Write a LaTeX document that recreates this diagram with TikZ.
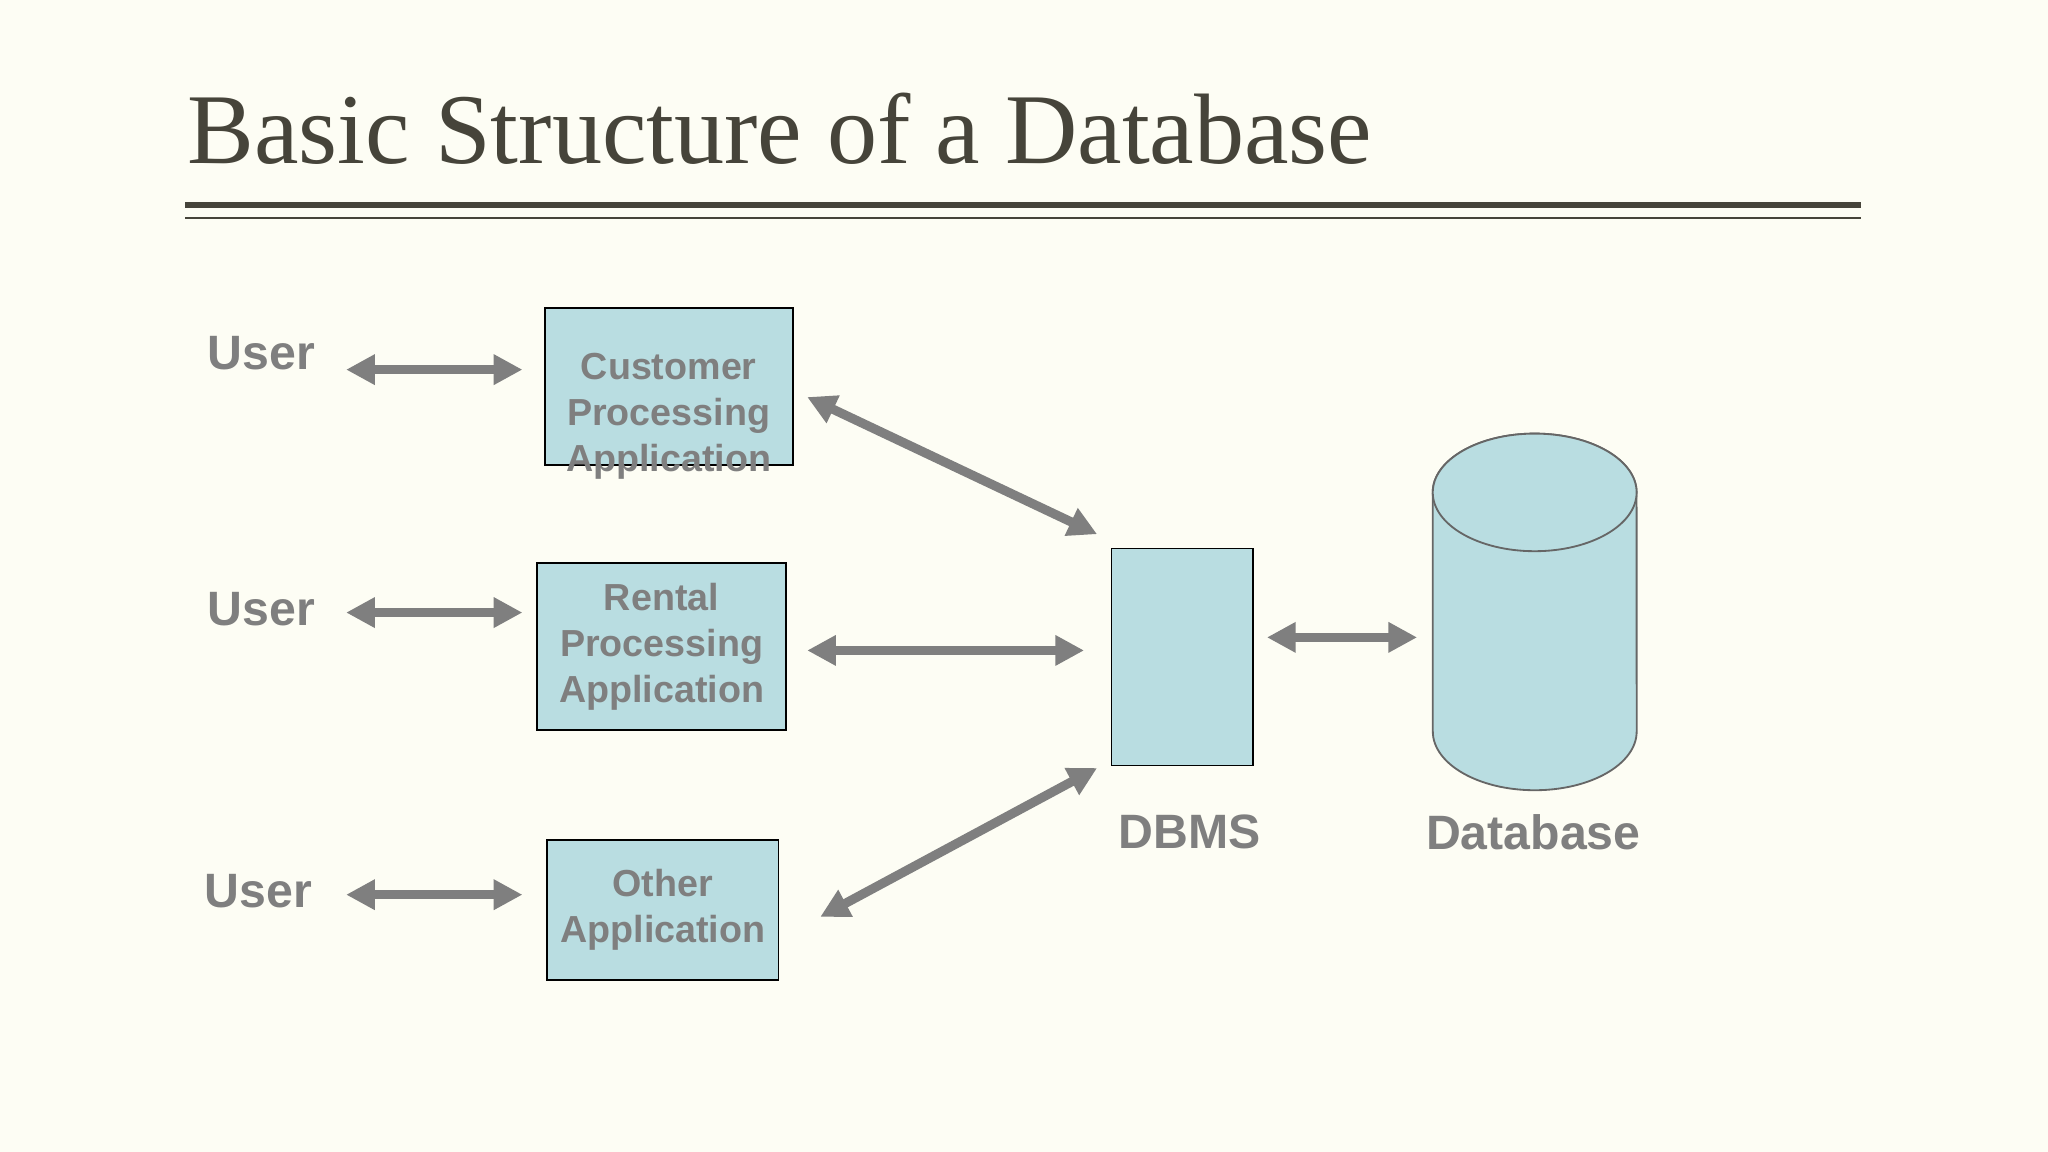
\documentclass[tikz,border=0pt]{standalone}
\usepackage{fontspec}
\setmainfont{Liberation Serif}
\newfontfamily\sans{Liberation Sans}
\usetikzlibrary{arrows.meta}
\definecolor{bg}{HTML}{FDFDF4}
\definecolor{boxc}{HTML}{B9DDE1}
\definecolor{txt}{HTML}{7F7F7F}
\definecolor{ttl}{HTML}{46443A}
\begin{document}
\begin{tikzpicture}[x=0.01cm,y=-0.01cm,
  box/.style={draw=black,line width=0.4pt,fill=boxc,inner sep=0pt,font=\sans\bfseries\fontsize{8.2}{10}\selectfont,text=txt,align=center},
  lbl/.style={font=\sans\bfseries\fontsize{10.5}{12}\selectfont,text=txt},
  cyl/.style={draw=black!60,line width=0.4pt,fill=boxc},
  arr/.style={draw=txt,line width=2pt,{Triangle[length=0.22cm,width=0.22cm]}-{Triangle[length=0.22cm,width=0.22cm]}}]
\fill[bg] (0,0) rectangle (1568,882);
\useasboundingbox (0,0) rectangle (1568,882);
\node[anchor=base west,text=ttl,font=\fontsize{21.8}{24}\selectfont,inner sep=0pt] (title) at (143,125) {Basic Structure of a Database};
\draw[ttl,line width=1.4pt] (142,157) coordinate (l1a) -- (1425,157) coordinate (l1b);
\draw[ttl,line width=0.45pt] (142,167) coordinate (l2a) -- (1425,167) coordinate (l2b);
% boxes
\node[box,minimum width=1.90cm,minimum height=1.20cm,text depth=0pt] (cpa) at (512,296) {\raisebox{-1.2pt}{\parbox{1.9cm}{\centering Customer\\Processing\\Application}}};
\node[box,minimum width=1.91cm,minimum height=1.28cm] (rpa) at (506.5,495) {\raisebox{-1.2pt}{\parbox{1.91cm}{\centering Rental\\Processing\\Application}}};
\node[box,minimum width=1.77cm,minimum height=1.07cm] (oa) at (507.5,696.5) {\raisebox{-1.2pt}{\parbox{1.77cm}{\centering Other\\Application}}};
\node[box,minimum width=1.08cm,minimum height=1.66cm] (dbms) at (905,503) {};
% database cylinder
\path[cyl] (1097,377) -- (1097,560) arc[start angle=180,end angle=360,x radius=0.78cm,y radius=0.45cm] -- (1253,377) arc[start angle=0,end angle=180,x radius=0.78cm,y radius=0.45cm] -- cycle;
\draw[cyl] (1175,377) ellipse [x radius=0.78cm,y radius=0.45cm];
\coordinate (db) at (1175,469);
% labels
\node[lbl] (u1) at (200,270) {User};
\node[lbl] (u2) at (200,466) {User};
\node[lbl] (u3) at (198,682) {User};
\node[lbl] (ldbms) at (911,637) {DBMS};
\node[lbl] (ldb) at (1174,637) {Database};
% arrow endpoints
\coordinate (a1) at (265,283); \coordinate (b1) at (400,283);
\coordinate (a2) at (265,469); \coordinate (b2) at (400,469);
\coordinate (a3) at (265,685); \coordinate (b3) at (400,685);
\coordinate (c1) at (618,304); \coordinate (d1) at (840,409);
\coordinate (c2) at (618,498); \coordinate (d2) at (830,498);
\coordinate (c3) at (628,702); \coordinate (d3) at (840,588);
\coordinate (e1) at (970,488); \coordinate (f1) at (1085,488);
\draw[arr] (a1) -- (b1);
\draw[arr] (a2) -- (b2);
\draw[arr] (a3) -- (b3);
\draw[arr] (c1) -- (d1);
\draw[arr] (c2) -- (d2);
\draw[arr] (c3) -- (d3);
\draw[arr] (e1) -- (f1);
\end{tikzpicture}
\end{document}
